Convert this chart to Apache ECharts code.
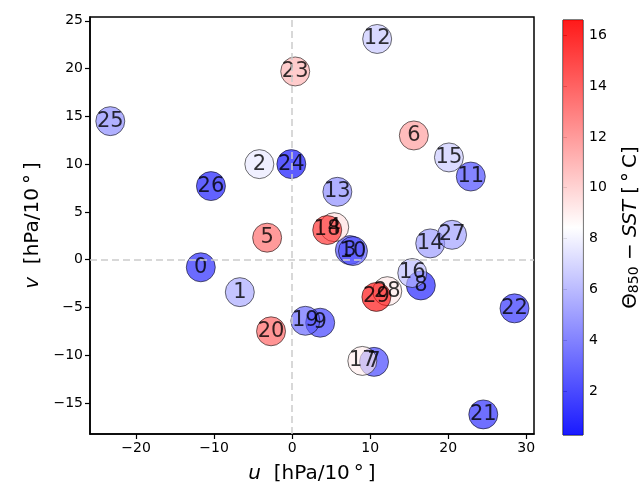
<!DOCTYPE html>
<html>
<head>
<meta charset="utf-8">
<script src="https://cdn.jsdelivr.net/npm/echarts@6/dist/echarts.min.js"></script>
<style>
html, body { margin: 0; padding: 0; background: #fff; }
#chart { width: 644px; height: 494px; }
</style>
</head>
<body>
<div id="chart"></div>
<script>
// u, v of each numbered point and its theta850 - SST value
const uVals = [-11.7, -6.7, -4.2, 7.4, 5.4, -3.2, 15.6, 10.5, 16.5, 3.6,
               7.8, 22.9, 10.9, 5.8, 17.7, 20.1, 15.4, 9.0, 4.5, 1.7,
               -2.7, 24.5, 28.5, 0.4, -0.1, -23.3, -10.4, 20.5, 12.2, 10.8];
const vVals = [-0.8, -3.4, 10.0, 1.0, 3.4, 2.3, 13.0, -10.7, -2.7, -6.6,
               0.9, 8.7, 23.1, 7.1, 1.7, 10.7, -1.4, -10.6, 3.1, -6.4,
               -7.5, -16.2, -5.1, 19.7, 10.0, 14.5, 7.7, 2.6, -3.3, -3.9];
const thetaVals = [1.0, 5.5, 7.7, 2.5, 9.5, 13.5, 11.8, 2.0, 0.8, 1.8,
                   2.8, 2.3, 6.5, 4.5, 5.0, 6.6, 6.2, 9.0, 15.5, 3.2,
                   13.8, 1.2, 1.4, 11.0, 0.27, 4.5, 0.6, 5.2, 9.2, 16.6];

const xTicks = [-20, -10, 0, 10, 20, 30];
const yTicks = [-15, -10, -5, 0, 5, 10, 15, 20, 25];
const cTicks = [2, 4, 6, 8, 10, 12, 14, 16];
const xRange = [-25.9, 31.0];
const yRange = [-18.25, 25.4];
const cMin = 0.27, cMax = 16.6;
const bwr = ['#0000ff', '#ffffff', '#ff0000'];

const FONT = 'DejaVu Sans';
const ALPHA = 0.8;
const minus = v => String(v).replace('-', '\u2212');

const points = uVals.map((u, i) => [u, vVals[i], thetaVals[i], i]);

const tickStyle = { color: '#000', fontSize: 14, fontFamily: FONT };
const nameRich = {
  i: { fontStyle: 'italic', fontSize: 20, fontFamily: FONT, color: '#000' },
  n: { fontSize: 20, fontFamily: FONT, color: '#000' },
  sub: { fontSize: 14, fontFamily: FONT, color: '#000', verticalAlign: 'bottom' }
};

const chart = echarts.init(document.getElementById('chart'), null, { renderer: 'canvas' });
chart.setOption({
  animation: false,
  backgroundColor: '#fff',
  grid: [
    { left: 90, top: 17, width: 444, height: 417, show: true, borderColor: '#000', borderWidth: 1.5, backgroundColor: 'transparent' },
    { left: 563, top: 20, width: 20, height: 415, show: true, borderColor: '#000', borderWidth: 1, backgroundColor: 'transparent' }
  ],
  xAxis: [
    {
      type: 'value', gridIndex: 0, min: xRange[0], max: xRange[1],
      splitLine: { show: false },
      axisLine: { onZero: false, lineStyle: { color: '#000', width: 1.5 } },
      axisTick: { customValues: xTicks, length: 5, lineStyle: { color: '#000', width: 1.2 } },
      axisLabel: Object.assign({ customValues: xTicks, formatter: minus, margin: 7 }, tickStyle),
      name: '{i|u}{n|  [hPa/10\u2009°\u2009]}',
      nameLocation: 'middle', nameGap: 30,
      nameTextStyle: { rich: nameRich }
    },
    { type: 'value', gridIndex: 1, min: 0, max: 1, show: false }
  ],
  yAxis: [
    {
      type: 'value', gridIndex: 0, min: yRange[0], max: yRange[1],
      splitLine: { show: false },
      axisLine: { onZero: false, lineStyle: { color: '#000', width: 1.5 } },
      axisTick: { customValues: yTicks, length: 5, lineStyle: { color: '#000', width: 1.2 } },
      axisLabel: Object.assign({ customValues: yTicks, formatter: minus, margin: 7 }, tickStyle),
      name: '{i|v}{n|  [hPa/10\u2009°\u2009]}',
      nameLocation: 'middle', nameGap: 46,
      nameTextStyle: { rich: nameRich }
    },
    {
      type: 'value', gridIndex: 1, position: 'right', min: cMin, max: cMax,
      splitLine: { show: false },
      axisLine: { show: false },
      axisTick: { customValues: cTicks, length: 4, lineStyle: { color: '#000', width: 1 } },
      axisLabel: Object.assign({ customValues: cTicks, margin: 6 }, tickStyle),
      name: '{n|Θ}{sub|850}{n| \u2212 }{i|SST}{n| [\u2009°\u2009C]}',
      nameLocation: 'middle', nameGap: 38,
      nameTextStyle: { rich: nameRich }
    }
  ],
  visualMap: {
    type: 'continuous', show: false, seriesIndex: 1, dimension: 2,
    min: cMin, max: cMax,
    inRange: { color: bwr, colorAlpha: ALPHA }
  },
  series: [
    {
      // zero reference lines, kept under the points
      type: 'scatter', xAxisIndex: 0, yAxisIndex: 0, z: 1, data: [],
      markLine: {
        silent: true, symbol: 'none', animation: false,
        label: { show: false },
        lineStyle: { type: [7, 4], color: '#cccccc', width: 1.5 },
        data: [{ xAxis: 0 }, { yAxis: 0 }]
      }
    },
    {
      // coloured circles
      type: 'scatter', xAxisIndex: 0, yAxisIndex: 0, z: 3,
      data: points,
      symbolSize: 29,
      itemStyle: { borderColor: 'rgba(0,0,0,0.7)', borderWidth: 1 }
    },
    {
      // point numbers, drawn above every circle
      type: 'scatter', xAxisIndex: 0, yAxisIndex: 0, z: 4,
      data: points,
      symbolSize: 29,
      itemStyle: { color: 'rgba(0,0,0,0)' },
      label: {
        show: true, position: 'inside', formatter: p => p.value[3],
        color: '#000', fontSize: 21, fontFamily: FONT
      }
    },
    {
      // colorbar
      type: 'custom', xAxisIndex: 1, yAxisIndex: 1, z: 2,
      data: [[cMin, cMax]],
      renderItem: (params, api) => {
        const p0 = api.coord([0, api.value(1)]);
        const p1 = api.coord([1, api.value(0)]);
        return {
          type: 'rect',
          shape: { x: p0[0], y: p0[1], width: p1[0] - p0[0], height: p1[1] - p0[1] },
          style: {
            opacity: 0.9,
            fill: new echarts.graphic.LinearGradient(0, 0, 0, 1, [
              { offset: 0, color: bwr[2] },
              { offset: 0.5, color: bwr[1] },
              { offset: 1, color: bwr[0] }
            ])
          }
        };
      }
    }
  ]
});
</script>
</body>
</html>
